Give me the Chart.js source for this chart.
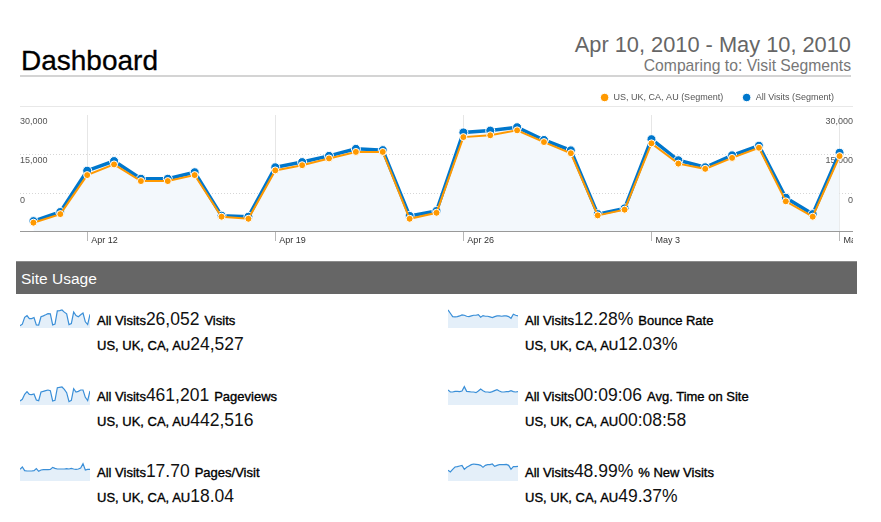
<!DOCTYPE html>
<html>
<head>
<meta charset="utf-8">
<title>Dashboard</title>
<script src="https://cdn.jsdelivr.net/npm/chart.js@4.4.1/dist/chart.umd.min.js"></script>
<style>
  body { margin: 0; background: #fff; font-family: "Liberation Sans", Arial, Helvetica, sans-serif; }
  #page { position: relative; width: 881px; height: 522px; overflow: hidden; }
  .abs { position: absolute; white-space: nowrap; line-height: 1; }
  #title { left: 21px; top: 47px; font-size: 28px; color: #000; -webkit-text-stroke: 0.3px #000; }
  #range { right: 30px; top: 34px; font-size: 21.8px; color: #666; }
  #compare { right: 30px; top: 58px; font-size: 15.7px; color: #777; }
  #titleRule { left: 20px; top: 75px; width: 831px; height: 2px; background: #d4d4d4; }
  #legendRule { left: 20px; top: 106px; width: 833px; height: 1px; background: #e8e8e8; }
  #mainWrap { left: 20px; top: 74px; }
  #usageBar { left: 16px; top: 261px; width: 841px; height: 32px; background: #666; border-top: 1px solid #8c8c8c; }
  #usageText { left: 21px; top: 271px; font-size: 15.5px; color: #fff; }
  .mline { position: absolute; white-space: nowrap; font-size: 18px; line-height: 18px; color: #000; }
  .mline .s { font-size: 13px; -webkit-text-stroke: 0.35px #000; }
  .mline .n { font-size: 17.5px; color: #111; }
  .spark { position: absolute; }
</style>
</head>
<body>
<div id="page">
  <div class="abs" id="title">Dashboard</div>
  <div class="abs" id="range">Apr 10, 2010 - May 10, 2010</div>
  <div class="abs" id="compare">Comparing to: Visit Segments</div>
  <div class="abs" id="titleRule"></div>
  <div class="abs" id="legendRule"></div>
  <div class="abs" id="mainWrap"><canvas id="mainChart" width="833" height="172"></canvas></div>
  <div class="abs" id="usageBar"></div>
  <div class="abs" id="usageText">Site Usage</div>
  <div id="metrics"></div>
</div>
<script>
// ---------- data ----------
const days = ['Apr 10', 'Apr 11', 'Apr 12', 'Apr 13', 'Apr 14', 'Apr 15', 'Apr 16', 'Apr 17', 'Apr 18', 'Apr 19',
  'Apr 20', 'Apr 21', 'Apr 22', 'Apr 23', 'Apr 24', 'Apr 25', 'Apr 26', 'Apr 27', 'Apr 28', 'Apr 29', 'Apr 30',
  'May 1', 'May 2', 'May 3', 'May 4', 'May 5', 'May 6', 'May 7', 'May 8', 'May 9', 'May 10'];
const tickDays = ['Apr 12', 'Apr 19', 'Apr 26', 'May 3', 'May 10'];
const yTicks = [0, 15000, 30000];

const allVisits = [-10800, -7300, 8600, 12300, 5500, 5500, 8000, -8700, -9100, 9900, 11900, 14300, 17000, 16500,
  -8800, -6900, 23300, 24000, 25300, 20400, 16400, -8100, -5900, 20700, 12600, 9900, 14500, 18200, -1800, -8100, 15500];
const segmentVisits = [-11400, -8100, 6900, 11000, 4600, 4600, 6900, -9100, -9900, 8700, 10700, 13300, 15800, 15800,
  -9900, -7600, 21500, 22200, 24100, 19600, 15300, -8600, -6400, 19100, 11300, 9300, 13500, 17400, -3200, -9100, 14200];

// sparklines (daily, same 31 days)
const sparkPageviews = [7000, 9000, 15000, 18200, 15000, 14600, 15400, 8200, 7400, 17800, 18600, 19400, 20200, 19400,
  7000, 7800, 23000, 23400, 23800, 21000, 17000, 6200, 7800, 21800, 17800, 18600, 20200, 20200, 11400, 7400, 19000];
const sparkPagesPerVisit = [17.70, 18.05, 17.50, 17.45, 17.45, 17.45, 17.50, 17.80, 17.40, 17.60, 17.65, 17.65, 17.65,
  17.70, 18.00, 17.85, 17.75, 17.75, 17.75, 17.75, 17.80, 17.75, 17.85, 17.75, 17.70, 17.75, 17.90, 18.55, 17.60, 17.70, 17.70];
const sparkBounce = [14.1, 13.1, 12.1, 12.0, 12.1, 12.3, 12.6, 12.5, 12.2, 12.1, 12.3, 12.5, 12.5, 12.7, 11.9, 12.4,
  12.2, 12.2, 12.0, 11.8, 12.1, 12.3, 12.3, 12.2, 12.3, 12.3, 12.1, 11.6, 12.8, 12.5, 12.3];
const sparkTimeOnSite = [566, 542, 542, 550, 550, 546, 554, 606, 550, 546, 542, 542, 534, 554, 578, 558, 542, 542, 538,
  546, 558, 570, 554, 542, 542, 546, 546, 558, 546, 542, 546];
const sparkNewVisits = [45.7, 44.2, 46.6, 48.7, 49.0, 49.6, 50.2, 46.6, 48.4, 49.6, 50.8, 51.4, 51.1, 50.8, 50.2, 48.4,
  50.2, 50.8, 50.8, 51.4, 49.3, 50.2, 50.8, 50.8, 50.8, 51.1, 50.2, 46.6, 49.0, 49.0, 49.3];

const metricLabels = ['Visits', 'Pageviews', 'Pages/Visit', 'Bounce Rate', 'Avg. Time on Site', '% New Visits'];
const allVisitsTotals = ['26,052', '461,201', '17.70', '12.28%', '00:09:06', '48.99%'];
const segmentTotals = ['24,527', '442,516', '18.04', '12.03%', '00:08:58', '49.37%'];
const sparkSeries = [allVisits, sparkPageviews, sparkPagesPerVisit, sparkBounce, sparkTimeOnSite, sparkNewVisits];
const sparkRanges = [[-16000, 34500], [2200, 28600], [15.95, 19.25], [8.68, 15.28], [386, 650], [36.1, 55.9]];

// ---------- main chart ----------
const FONT = '"Liberation Sans", Arial, Helvetica, sans-serif';
const isTick = i => tickDays.includes(days[i]);

// a bit of room between legend and plot
const legendSpacer = {
  id: 'legendSpacer',
  beforeInit(chart) {
    const fit = chart.legend.fit;
    chart.legend.fit = function () {
      fit.bind(chart.legend)();
      this.height += 3;
    };
  }
};

new Chart(document.getElementById('mainChart'), {
  type: 'line',
  data: {
    labels: days,
    datasets: [
      {
        label: 'US, UK, CA, AU (Segment)',
        data: segmentVisits,
        borderColor: '#ff9900',
        backgroundColor: '#ff9900',
        borderWidth: 2,
        pointRadius: 3.5,
        pointBackgroundColor: '#ff9900',
        pointBorderColor: '#fff',
        pointBorderWidth: 1,
        tension: 0,
        fill: false
      },
      {
        label: 'All Visits (Segment)',
        data: allVisits,
        borderColor: '#0077cc',
        backgroundColor: '#f3f8fc',
        borderWidth: 3.5,
        pointRadius: 4.5,
        pointBackgroundColor: '#0077cc',
        pointBorderColor: '#fff',
        pointBorderWidth: 1,
        tension: 0,
        fill: 'start'
      }
    ]
  },
  options: {
    responsive: false,
    animation: false,
    events: [],
    layout: { padding: 0, autoPadding: false },
    plugins: {
      legend: {
        position: 'top',
        align: 'end',
        labels: {
          usePointStyle: true,
          pointStyle: 'circle',
          boxWidth: 9,
          boxHeight: 6,
          padding: 19,
          color: '#555',
          font: { size: 9, family: FONT }
        }
      },
      tooltip: { enabled: false }
    },
    scales: {
      x: {
        offset: true,
        grid: {
          offset: false,
          color: c => isTick(c.index) ? '#e6e6e6' : 'rgba(0,0,0,0)',
          tickColor: c => isTick(c.index) ? '#b8b8b8' : 'rgba(0,0,0,0)',
          tickLength: 10
        },
        border: { color: '#999' },
        ticks: {
          autoSkip: false,
          maxRotation: 0,
          minRotation: 0,
          align: 'start',
          labelOffset: 4,
          padding: -6,
          color: '#333',
          font: { size: 9, family: FONT },
          callback: (v, i) => isTick(i) ? days[i] : ''
        },
        afterFit: s => { s.paddingLeft = 0; s.paddingRight = 0; s.height = 15; }
      },
      y: {
        position: 'left',
        min: -14600,
        max: 30000,
        afterBuildTicks: s => { s.ticks = yTicks.map(v => ({ value: v })); },
        grid: {
          color: c => c.tick && c.tick.value === 30000 ? 'rgba(0,0,0,0)' : '#d6d6d6',
          drawTicks: false
        },
        border: { display: false, dash: [1, 2] },
        ticks: {
          mirror: true,
          padding: 0,
          labelOffset: 7,
          color: '#555',
          font: { size: 9, family: FONT },
          callback: v => v.toLocaleString('en-US')
        },
        afterFit: s => { s.width = 0; s.paddingTop = 0; s.paddingBottom = 0; }
      },
      y2: {
        position: 'right',
        min: -14600,
        max: 30000,
        afterBuildTicks: s => { s.ticks = yTicks.map(v => ({ value: v })); },
        grid: { display: false, drawTicks: false },
        border: { display: false },
        ticks: {
          mirror: true,
          padding: 0,
          labelOffset: 7,
          color: '#555',
          font: { size: 9, family: FONT },
          callback: v => v.toLocaleString('en-US')
        },
        afterFit: s => { s.width = 0; s.paddingTop = 0; s.paddingBottom = 0; }
      }
    }
  },
  plugins: [legendSpacer]
});

// ---------- site usage ----------
const colSpark = [20, 448];
const colText = [97, 525];
const rowTop = [310, 386, 462];
const sparkBottom = [328, 405, 481];

const metricsEl = document.getElementById('metrics');
metricLabels.forEach((label, i) => {
  const col = Math.floor(i / 3);
  const row = i % 3;

  const l1 = document.createElement('div');
  l1.className = 'mline';
  l1.style.left = colText[col] + 'px';
  l1.style.top = rowTop[row] + 'px';
  l1.innerHTML = '<span class="s">All Visits</span><span class="n">' + allVisitsTotals[i] + '</span> <span class="s">' + label + '</span>';
  metricsEl.appendChild(l1);

  const l2 = document.createElement('div');
  l2.className = 'mline';
  l2.style.left = colText[col] + 'px';
  l2.style.top = (rowTop[row] + 25) + 'px';
  l2.innerHTML = '<span class="s">US, UK, CA, AU</span><span class="n">' + segmentTotals[i] + '</span>';
  metricsEl.appendChild(l2);

  const c = document.createElement('canvas');
  c.className = 'spark';
  c.width = 70;
  c.height = 22;
  c.style.left = colSpark[col] + 'px';
  c.style.top = (sparkBottom[row] - 22) + 'px';
  metricsEl.appendChild(c);

  new Chart(c, {
    type: 'line',
    data: {
      labels: days,
      datasets: [{
        data: sparkSeries[i],
        borderColor: '#3a8fd8',
        borderWidth: 1.2,
        backgroundColor: '#e4eff9',
        fill: 'start',
        pointRadius: 0,
        tension: 0
      }]
    },
    options: {
      responsive: false,
      animation: false,
      events: [],
      layout: { padding: 0, autoPadding: false },
      plugins: { legend: { display: false }, tooltip: { enabled: false } },
      scales: {
        x: { display: false },
        y: { display: false, min: sparkRanges[i][0], max: sparkRanges[i][1] }
      }
    }
  });
});
</script>
</body>
</html>
